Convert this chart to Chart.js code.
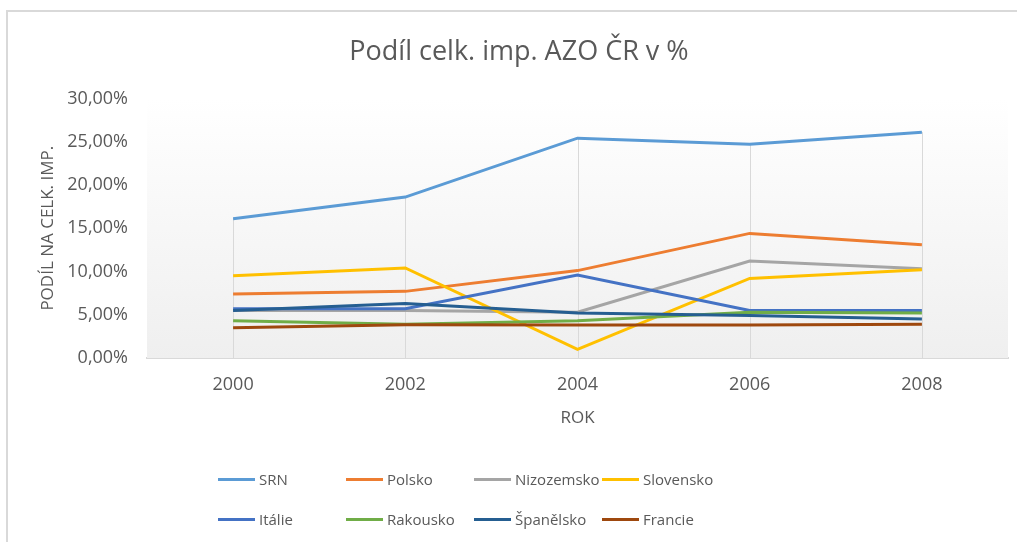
<!DOCTYPE html>
<html lang="cs">
<head>
<meta charset="utf-8">
<title>Podíl celk. imp. AZO ČR v %</title>
<script src="https://cdn.jsdelivr.net/npm/chart.js@4/dist/chart.umd.min.js"></script>
<style>
  html, body { margin: 0; padding: 0; background: #fff; overflow: hidden; }
  #wrap { position: relative; width: 1017px; height: 542px; }
  #frame { position: absolute; left: 6px; top: 10px; width: 1100px; height: 600px;
           border-top: 2px solid #d9d9d9; border-left: 2px solid #d9d9d9; }
  #chart { position: absolute; left: 0; top: 0; }
  .leg { position: absolute; height: 20px; display: flex; align-items: center;
         font: 15px "Open Sans", sans-serif; color: #595959; white-space: nowrap; }
  .leg span.ln { display: inline-block; width: 37px; height: 3px; margin-right: 4px; }
</style>
</head>
<body>
<div id="wrap">
  <div id="frame"></div>
  <canvas id="chart" width="1017" height="542"></canvas>
  <div id="legend"></div>
</div>
<script>
// DATA
const years = ["2000", "2002", "2004", "2006", "2008"];
const countries = ["SRN", "Polsko", "Nizozemsko", "Slovensko", "Itálie", "Rakousko", "Španělsko", "Francie"];
const srn = [16.1, 18.6, 25.4, 24.7, 26.1];
const polsko = [7.4, 7.7, 10.1, 14.4, 13.1];
const nizozemsko = [5.5, 5.5, 5.3, 11.2, 10.3];
const slovensko = [9.5, 10.4, 1.0, 9.2, 10.2];
const italie = [5.7, 5.7, 9.6, 5.5, 5.5];
const rakousko = [4.3, 3.9, 4.3, 5.3, 5.2];
const spanelsko = [5.5, 6.3, 5.2, 4.9, 4.5];
const francie = [3.5, 3.85, 3.8, 3.8, 3.9];
const yTicks = [0, 5, 10, 15, 20, 25, 30];

const seriesValues = [srn, polsko, nizozemsko, slovensko, italie, rakousko, spanelsko, francie];
const colors = ["#5b9bd5", "#ed7d31", "#a5a5a5", "#ffc000", "#4472c4", "#70ad47", "#255e91", "#9e480e"];
const textColor = "#595959";
const font = "'Open Sans', sans-serif";

// PLOT AREA BACKGROUND + DROP LINES
const plotBackground = {
  id: "plotBackground",
  beforeDatasetsDraw(chart) {
    const { ctx, chartArea: a, scales } = chart;
    ctx.save();
    const g = ctx.createLinearGradient(0, a.top, 0, a.bottom);
    g.addColorStop(0, "#ffffff");
    g.addColorStop(1, "#efefef");
    ctx.fillStyle = g;
    ctx.fillRect(a.left, a.top, a.right - a.left, a.bottom - a.top);

    // drop lines from the highest point down to the axis
    ctx.strokeStyle = "#d9d9d9";
    ctx.lineWidth = 1;
    years.forEach((y, i) => {
      const top = Math.max(...seriesValues.map(s => s[i]));
      const x = Math.round(scales.x.getPixelForValue(i)) + 0.5;
      ctx.beginPath();
      ctx.moveTo(x, scales.y.getPixelForValue(top));
      ctx.lineTo(x, a.bottom);
      ctx.stroke();
    });
    ctx.restore();
  }
};

const datasets = countries.map((name, i) => ({
  label: name,
  data: seriesValues[i],
  borderColor: colors[i],
  backgroundColor: colors[i],
  borderWidth: 3,
  pointRadius: 0,
  tension: 0,
  order: countries.length - i
}));

new Chart(document.getElementById("chart"), {
  type: "line",
  data: { labels: years, datasets },
  options: {
    responsive: false,
    animation: false,
    layout: { padding: { left: 30, right: 9, top: 0, bottom: 114 } },
    plugins: {
      legend: { display: false },
      tooltip: { enabled: false },
      title: {
        display: true,
        text: "Podíl celk. imp. AZO ČR v %",
        color: textColor,
        font: { family: font, size: 27, weight: "normal" },
        padding: { top: 36, bottom: 30 }
      }
    },
    scales: {
      x: {
        offset: true,
        afterFit(scale) { scale.height = 70; },
        grid: { display: false, drawTicks: false, offset: true },
        border: { display: true, color: "#d9d9d9", width: 2 },
        ticks: { color: textColor, font: { family: font, size: 18 }, padding: 16 },
        title: {
          display: true, text: "ROK", color: textColor,
          font: { family: font, size: 17 }, padding: { top: 12, bottom: 0 }
        }
      },
      y: {
        min: 0,
        max: 30,
        afterFit(scale) { scale.width = 117; },
        afterBuildTicks(scale) { scale.ticks = yTicks.map(v => ({ value: v })); },
        grid: { display: false, drawTicks: false },
        border: { display: false },
        ticks: {
          color: textColor,
          font: { family: font, size: 18 },
          padding: 19,
          callback: v => v.toFixed(2).replace(".", ",") + "%"
        },
        title: {
          display: true, text: "PODÍL NA CELK. IMP.", color: textColor,
          font: { family: font, size: 17 }, padding: { top: 8, bottom: 0 }
        }
      }
    }
  },
  plugins: [plotBackground]
});

// LEGEND (grid like the original)
const legend = document.getElementById("legend");
countries.forEach((name, i) => {
  const item = document.createElement("div");
  item.className = "leg";
  item.style.left = (218 + (i % 4) * 128) + "px";
  item.style.top = (469 + Math.floor(i / 4) * 40) + "px";
  item.innerHTML = `<span class="ln" style="background:${colors[i]}"></span>${name}`;
  legend.appendChild(item);
});
</script>
</body>
</html>
